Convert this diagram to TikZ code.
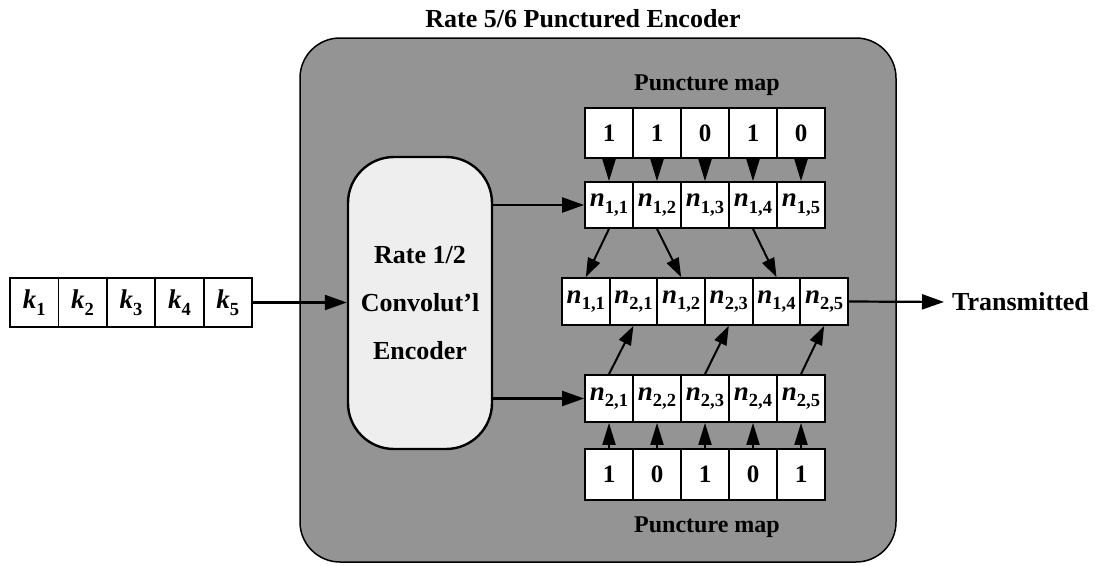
\documentclass[tikz,border=0pt]{standalone}
\usepackage{fontspec}
\setmainfont{Liberation Serif}
\usetikzlibrary{arrows.meta}
\definecolor{panel}{RGB}{148,148,148}
\definecolor{encfill}{RGB}{238,238,238}
% bold italic symbol with an upright bold subscript
\newcommand{\bitsym}[2]{\textit{#1}\raisebox{-6.5pt}{\fontsize{18.5}{18.5}\selectfont #2}}
\begin{document}
\begin{tikzpicture}[x=1pt,y=-1pt,
  every node/.style={font=\bfseries},
  cell/.style={draw, fill=white, line width=1.8pt, inner sep=0pt,
    minimum width=48pt, minimum height=47pt,
    font=\fontsize{25}{25}\selectfont\bfseries},
  symcell/.style={cell, font=\fontsize{27}{27}\selectfont\bfseries},
  arr/.style={line width=2.2pt, -{Triangle[length=22pt,width=15pt]}},
  varr/.style={line width=2pt, -{Triangle[length=22pt,width=13pt]}},
  slant/.style={line width=2pt, -{Triangle[length=19pt,width=13pt]}},
  lbl/.style={font=\fontsize{24}{24}\selectfont\bfseries, inner sep=0pt},
  big/.style={font=\fontsize{26}{26}\selectfont\bfseries, inner sep=0pt}]
\useasboundingbox (0,0) rectangle (1095,565);

% encoder panel
\draw[fill=panel, line width=1.5pt, rounded corners=40pt] (300,38) rectangle (896,562);
\node[big] (title) at (583,19) {Rate 5/6 Punctured Encoder};

% rate 1/2 convolutional encoder
\node[draw, fill=encfill, line width=2.4pt, rounded corners=46pt,
  minimum width=144pt, minimum height=292pt, align=center,
  font=\fontsize{26}{48}\selectfont\bfseries] (enc) at (420,303)
  {Rate 1/2\\Convolut’l\\Encoder};

% input bits
\foreach \i in {1,...,5}
  \node[symcell, minimum width=48.4pt, minimum height=49pt] (k\i) at ({34.2+48.4*(\i-1)},302.5) {\bitsym{k}{\i}};

% top puncture map and first encoder output
\node[lbl] (maptop) at (707,85) {Puncture map};
\foreach \v [count=\i] in {1,1,0,1,0}
  \node[cell, minimum height=50pt] (t\i) at ({609+48*(\i-1)},133) {\v};
\foreach \i in {1,...,5}
  \node[symcell, minimum height=46pt] (a\i) at ({609+48*(\i-1)},205) {\bitsym{n}{1,\i}};

% punctured output sequence
\foreach \s [count=\i] in {{1,1},{2,1},{1,2},{2,3},{1,4},{2,5}}
  \node[symcell, minimum width=47.67pt] (m\i) at ({585.8+47.67*(\i-1)},301.5) {\bitsym{n}{\s}};

% second encoder output and bottom puncture map
\foreach \i in {1,...,5}
  \node[symcell] (b\i) at ({609+48*(\i-1)},398.5) {\bitsym{n}{2,\i}};
\foreach \v [count=\i] in {1,0,1,0,1}
  \node[cell, minimum height=51pt] (p\i) at ({609+48*(\i-1)},474.5) {\v};
\node[lbl] (mapbot) at (707,527) {Puncture map};

\node[big, anchor=west] (tx) at (952,302) {Transmitted};

% connections
\draw[arr] (k5.east) -- (k5.east -| enc.west);
\draw[arr] (enc.east |- a1.west) -- (a1.west);
\draw[arr] (enc.east |- b1.west) -- (b1.west);
\draw[arr, shorten >=8pt] (m6.east) -- (tx.west);
\foreach \i in {1,...,5} {
  \draw[varr] (t\i) -- (a\i);
  \draw[varr] (p\i) -- (b\i);
}
\draw[slant] (a1.south) -- (m1.north);
\draw[slant] (a2.south) -- (m3.north);
\draw[slant] (a4.south) -- (m5.north);
\draw[slant] (b1.north) -- (m2.south);
\draw[slant] (b3.north) -- (m4.south);
\draw[slant] (b5.north) -- (m6.south);
\end{tikzpicture}
\end{document}
